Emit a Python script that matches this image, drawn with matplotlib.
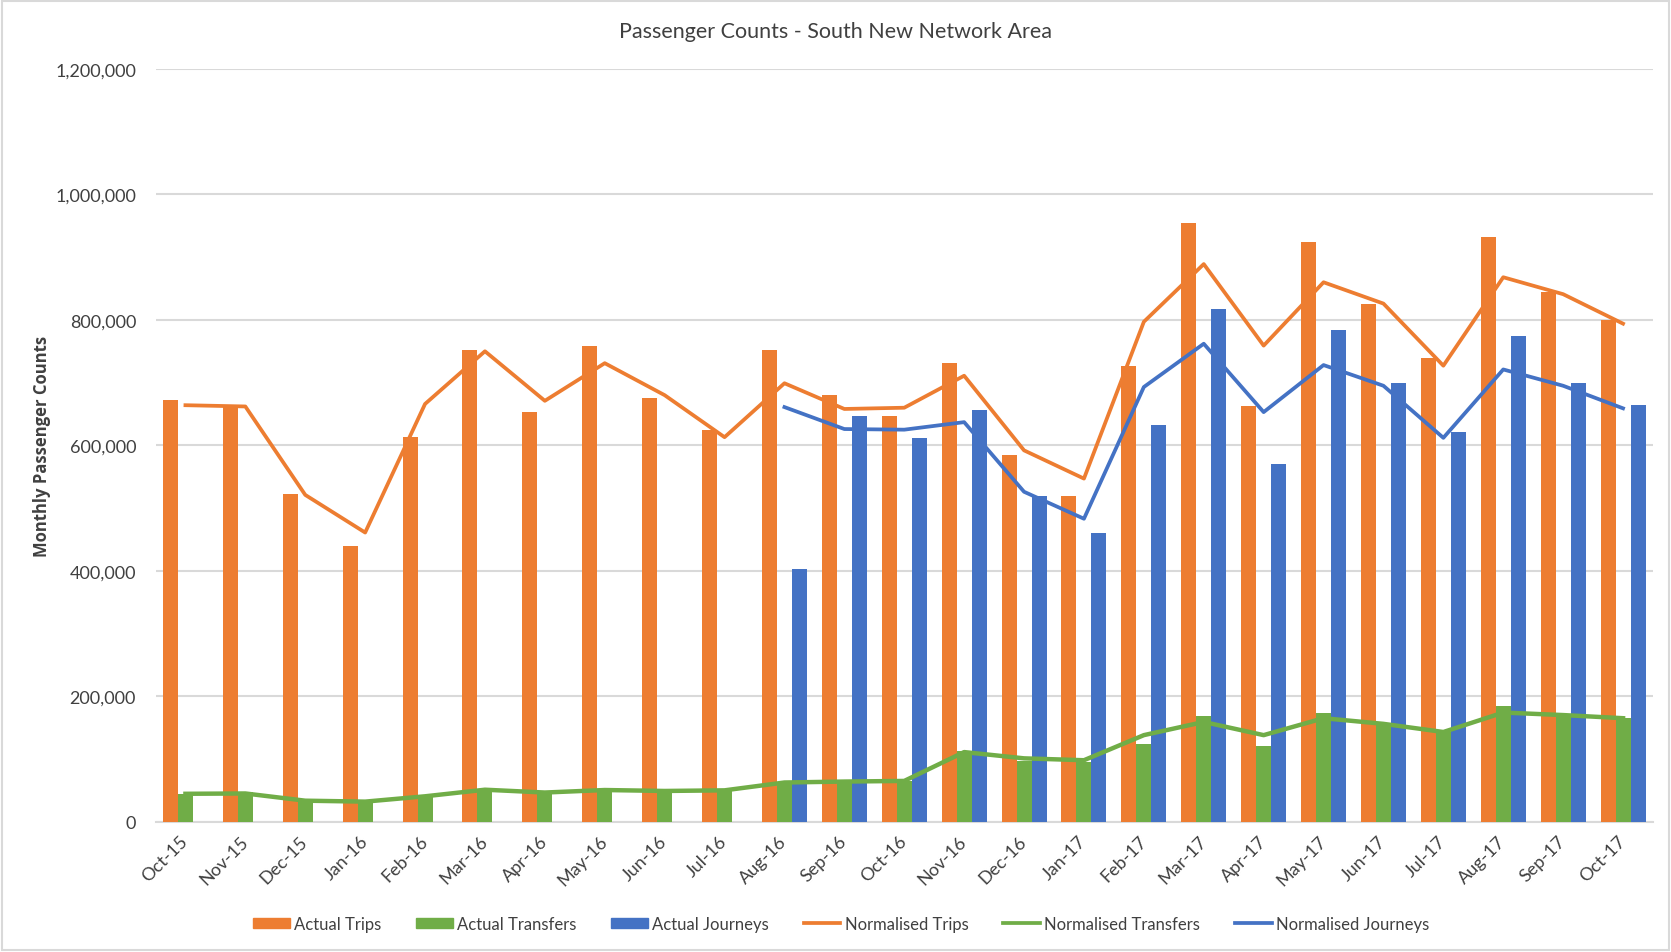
import numpy as np
import matplotlib
matplotlib.use("Agg")
import matplotlib.pyplot as plt
from matplotlib.ticker import FuncFormatter
from matplotlib.patches import Rectangle
from matplotlib.lines import Line2D

plt.rcParams['font.family'] = ['Lato', 'DejaVu Sans']

months = ["Oct-15", "Nov-15", "Dec-15", "Jan-16", "Feb-16", "Mar-16", "Apr-16", "May-16",
          "Jun-16", "Jul-16", "Aug-16", "Sep-16", "Oct-16", "Nov-16", "Dec-16", "Jan-17",
          "Feb-17", "Mar-17", "Apr-17", "May-17", "Jun-17", "Jul-17", "Aug-17", "Sep-17", "Oct-17"]

actual_trips = [672000, 663000, 523000, 439000, 614000, 752000, 653000, 758000,
                676000, 624000, 752000, 680000, 647000, 732000, 584000, 519000,
                727000, 954000, 663000, 924000, 825000, 739000, 932000, 845000, 800000]

actual_transfers = [44000, 47000, 32000, 31000, 39500, 50000, 44000, 50000,
                    49000, 49000, 64000, 64000, 65000, 112000, 97000, 95000,
                    124000, 169000, 121000, 174000, 156000, 143000, 185000, 170000, 165000]

actual_journeys = [None, None, None, None, None, None, None, None,
                   None, None, 403000, 647000, 612000, 656000, 519000, 460000,
                   632000, 818000, 571000, 784000, 700000, 621000, 774000, 700000, 665000]

norm_trips = [664000, 662000, 521000, 461000, 666000, 750000, 671000, 731000,
              680000, 613000, 699000, 658000, 660000, 711000, 592000, 547000,
              797000, 889000, 759000, 860000, 826000, 727000, 868000, 841000, 794000]

norm_transfers = [44500, 45000, 33500, 32000, 40500, 51000, 46500, 50500,
                  49000, 50000, 62500, 64000, 65000, 111000, 101000, 98000,
                  138000, 159000, 138000, 165000, 156000, 143000, 174000, 170000, 165000]

norm_journeys = [None, None, None, None, None, None, None, None,
                 None, None, 661000, 626000, 625000, 637000, 526000, 483000,
                 693000, 762000, 653000, 728000, 695000, 612000, 721000, 695000, 659000]

yticks = [0, 200000, 400000, 600000, 800000, 1000000, 1200000]

ORANGE = "#ED7D31"
GREEN = "#70AD47"
BLUE = "#4472C4"
GRID = "#D9D9D9"
TEXT = "#404040"

fig = plt.figure(figsize=(16.71, 9.53), dpi=100)
ax = fig.add_axes([155.5 / 1671, (953 - 822.7) / 953, (1653 - 155.5) / 1671, (822.7 - 70) / 953])

x = np.arange(len(months))
w = 0.25
aj = np.array([np.nan if v is None else v for v in actual_journeys], dtype=float)
nj = np.array([np.nan if v is None else v for v in norm_journeys], dtype=float)
mask = ~np.isnan(aj)

ax.bar(x - w, actual_trips, width=w, color=ORANGE, zorder=2, label="Actual Trips")
ax.bar(x, actual_transfers, width=w, color=GREEN, zorder=2, label="Actual Transfers")
ax.bar(x[mask] + w, aj[mask], width=w, color=BLUE, zorder=2, label="Actual Journeys")

lw = 2.7
ax.plot(x, norm_trips, color=ORANGE, lw=lw, zorder=3, label="Normalised Trips")
ax.plot(x, norm_transfers, color=GREEN, lw=lw + 0.5, zorder=3, label="Normalised Transfers")
ax.plot(x, nj, color=BLUE, lw=lw, zorder=3, label="Normalised Journeys")

ax.set_xlim(-0.5, len(months) - 0.5)
ax.set_ylim(0, 1200000)
ax.set_yticks(yticks)
ax.yaxis.set_major_formatter(FuncFormatter(lambda v, p: f"{int(v):,}"))
ax.grid(axis='y', color=GRID, lw=1.5, zorder=0)
ax.set_axisbelow(True)
for s in ['top', 'right', 'left']:
    ax.spines[s].set_visible(False)
ax.spines['bottom'].set_color(GRID)
ax.spines['bottom'].set_linewidth(1.5)
ax.spines['bottom'].set_zorder(1)
ax.tick_params(axis='both', length=0, colors=TEXT, labelsize=13)
ax.tick_params(axis='y', pad=14)
ax.set_xticks(x)
ax.set_xticklabels(months, rotation=45, ha='right', va='center', rotation_mode='anchor')
ax.tick_params(axis='x', pad=12)

ax.set_ylabel("Monthly Passenger Counts", fontsize=12, fontweight='bold', color=TEXT, labelpad=3,
              family=['Open Sans', 'DejaVu Sans'])

fig.text(0.5, 1 - 32 / 953, "Passenger Counts - South New Network Area", ha='center', va='center',
         fontsize=15.5, color=TEXT)

handles = [
    Rectangle((0, 0), 1, 1, color=ORANGE),
    Rectangle((0, 0), 1, 1, color=GREEN),
    Rectangle((0, 0), 1, 1, color=BLUE),
    Line2D([], [], color=ORANGE, lw=lw),
    Line2D([], [], color=GREEN, lw=lw),
    Line2D([], [], color=BLUE, lw=lw),
]
labels = ["Actual Trips", "Actual Transfers", "Actual Journeys",
          "Normalised Trips", "Normalised Transfers", "Normalised Journeys"]
leg = fig.legend(handles, labels, loc='center', bbox_to_anchor=(841 / 1671, 1 - 925 / 953), ncol=6,
                 frameon=False, fontsize=12, handlelength=2.2, handleheight=0.6,
                 handletextpad=0.25, columnspacing=2.1)
for t in leg.get_texts():
    t.set_color(TEXT)

fig.patches.append(Rectangle((2 / 1671, 2 / 953), 1 - 4 / 1671, 1 - 4 / 953, transform=fig.transFigure,
                             fill=False, edgecolor=GRID, lw=1.5))

fig.savefig("out.png", dpi=100, facecolor='white')
